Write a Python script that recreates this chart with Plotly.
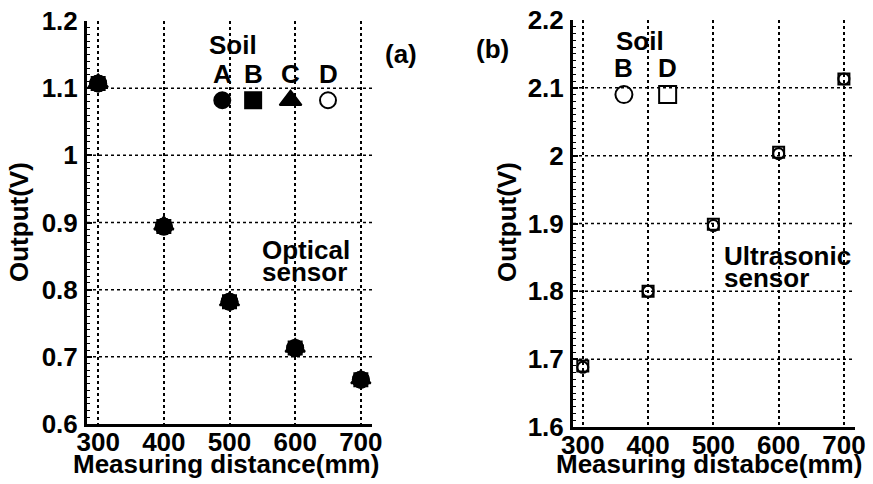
import plotly.graph_objects as go

# ---- data ----
distance = [300, 400, 500, 600, 700]
# (a) optical sensor, soils A-D (nearly identical)
opt_A = [1.107, 0.894, 0.782, 0.713, 0.666]
opt_B = [1.107, 0.894, 0.782, 0.713, 0.666]
opt_C = [1.108, 0.896, 0.783, 0.714, 0.667]
opt_D = [1.107, 0.894, 0.782, 0.713, 0.666]
# (b) ultrasonic sensor, soils B and D
ult_B = [1.688, 1.800, 1.897, 2.003, 2.113]
ult_D = [1.690, 1.800, 1.899, 2.005, 2.113]

x_ticks = [300, 400, 500, 600, 700]
y1_ticks = [0.6, 0.7, 0.8, 0.9, 1.0, 1.1, 1.2]
y1_labels = ["0.6", "0.7", "0.8", "0.9", "1", "1.1", "1.2"]
y2_ticks = [1.6, 1.7, 1.8, 1.9, 2.0, 2.1, 2.2]
y2_labels = ["1.6", "1.7", "1.8", "1.9", "2", "2.1", "2.2"]

# in-plot key positions (data units)
keyA_letters = ["A", "B", "C", "D"]
keyA_x = [489, 536, 593, 650]
keyA_y = 1.082
keyB_letters = ["B", "D"]
keyB_x = [363, 430]
keyB_y = 2.09

FONT = "Liberation Sans, Arial, sans-serif"
BLACK = "black"
FS = 26

fig = go.Figure()

sym_a = {"A": "circle", "B": "square", "C": "triangle-up", "D": "circle-open"}
size_a = {"A": 16, "B": 13, "C": 17, "D": 16}
series_a = {"D": opt_D, "B": opt_B, "A": opt_A, "C": opt_C}
for name, vals in series_a.items():
    fig.add_trace(go.Scatter(
        x=distance, y=vals, mode="markers", xaxis="x", yaxis="y",
        marker=dict(symbol=sym_a[name], size=size_a[name], color=BLACK,
                    line=dict(color=BLACK, width=2)),
        showlegend=False, name=name))

# key markers (a)
for i, name in enumerate(keyA_letters):
    fig.add_trace(go.Scatter(
        x=[keyA_x[i]], y=[keyA_y], mode="markers", xaxis="x", yaxis="y",
        marker=dict(symbol=sym_a[name], size=19 if name == "C" else 16, color=BLACK,
                    line=dict(color=BLACK, width=2)),
        showlegend=False, hoverinfo="skip"))

sym_b = {"B": "circle-open", "D": "square-open"}
for name, vals in (("B", ult_B), ("D", ult_D)):
    fig.add_trace(go.Scatter(
        x=distance, y=vals, mode="markers", xaxis="x2", yaxis="y2",
        marker=dict(symbol=sym_b[name], size=11, color=BLACK,
                    line=dict(color=BLACK, width=2)),
        showlegend=False, name=name))

for i, name in enumerate(keyB_letters):
    fig.add_trace(go.Scatter(
        x=[keyB_x[i]], y=[keyB_y], mode="markers", xaxis="x2", yaxis="y2",
        marker=dict(symbol=sym_b[name], size=17, color=BLACK,
                    line=dict(color=BLACK, width=2)),
        showlegend=False, hoverinfo="skip"))

axis_common = dict(
    showline=True, linecolor=BLACK, linewidth=3,
    zeroline=False, automargin=False,
    tickfont=dict(family=FONT, size=FS, color=BLACK, weight="bold"),
)
xcommon = dict(axis_common, showgrid=True, gridcolor=BLACK, gridwidth=1.5,
               griddash="dot", ticks="", ticklen=0, tickvals=x_ticks,
               ticktext=[str(v) for v in x_ticks], ticklabelstandoff=-7)
ycommon = dict(axis_common, showgrid=False, ticks="inside", ticklen=5,
               tickcolor=BLACK, tickwidth=1.5, ticklabelstandoff=1,
               minor=dict(ticks="inside", dtick=0.01, ticklen=3,
                          tickcolor=BLACK, tickwidth=1))

fig.update_layout(
    template="none",
    width=873, height=484,
    margin=dict(l=0, r=0, t=0, b=0, pad=0),
    paper_bgcolor="white", plot_bgcolor="white",
    showlegend=False,
    font=dict(family=FONT, size=FS, color=BLACK, weight="bold"),
    xaxis=dict(xcommon, domain=[87/873, 372/873], range=[283, 717], anchor="y"),
    yaxis=dict(ycommon, domain=[1-424/484, 1-21/484], range=[0.6, 1.2],
               tickvals=y1_ticks, ticktext=y1_labels, anchor="x"),
    xaxis2=dict(xcommon, domain=[573/873, 855/873], range=[285, 717], anchor="y2"),
    yaxis2=dict(ycommon, domain=[1-427/484, 1-20/484], range=[1.6, 2.2],
                tickvals=y2_ticks, ticktext=y2_labels, anchor="x2"),
)

# interior horizontal dotted grid lines
for v in y1_ticks[1:-1]:
    fig.add_shape(type="line", xref="x domain", yref="y", x0=0, x1=1, y0=v, y1=v,
                  line=dict(color=BLACK, width=1.5, dash="dot"), layer="below")
for v in y2_ticks[1:-1]:
    fig.add_shape(type="line", xref="x2 domain", yref="y2", x0=0, x1=1, y0=v, y1=v,
                  line=dict(color=BLACK, width=1.5, dash="dot"), layer="below")

def ann(text, x, y, xanchor="center", yanchor="middle", angle=0, size=FS, xref="paper", yref="paper", yshift=0):
    fig.add_annotation(text=text, x=x, y=y, xref=xref, yref=yref, showarrow=False,
                       xanchor=xanchor, yanchor=yanchor, textangle=angle, yshift=yshift,
                       font=dict(family=FONT, size=size, color=BLACK, weight="bold"))

# key letters
for i, t in enumerate(keyA_letters):
    ann(t, keyA_x[i], keyA_y, xref="x", yref="y", yshift=26)
for i, t in enumerate(keyB_letters):
    ann(t, keyB_x[i], keyB_y, xref="x2", yref="y2", yshift=27)

ann("Soil", 233/873, 1-45/484)
ann("Soil", 640/873, 1-41/484)
ann("(a)", 401/873, 1-54/484)
ann("(b)", 492/873, 1-49/484)
ann("Optical", 260/873, 1-250/484, xanchor="left")
ann("sensor", 260/873, 1-272/484, xanchor="left")
ann("Ultrasonic", 722/873, 1-256/484, xanchor="left")
ann("sensor", 722/873, 1-278/484, xanchor="left")

# axis titles
ann("Measuring distance(mm)", 226/873, 1-464/484)
ann("Measuring distabce(mm)", 709/873, 1-464/484)
ann("Output(V)", 19/873, 1-222/484, angle=-90)
ann("Output(V)", 507/873, 1-222/484, angle=-90)

fig.write_html("out.html")
